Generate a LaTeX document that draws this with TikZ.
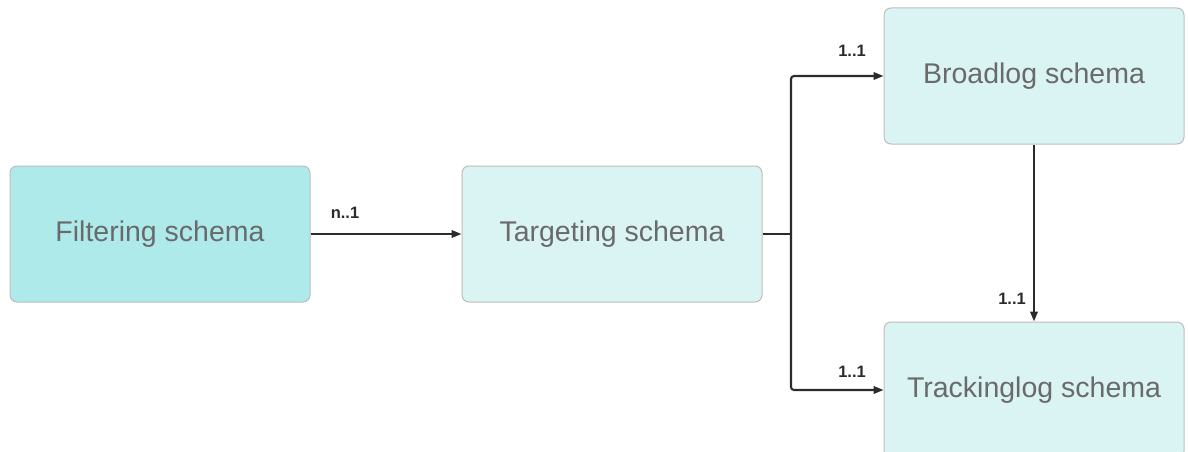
\documentclass[tikz,border=0pt]{standalone}
\usepackage{fontspec}
\setmainfont{Liberation Sans}
\usetikzlibrary{arrows.meta}
\definecolor{boxline}{HTML}{BDBDBD}
\definecolor{darkfill}{HTML}{AEEAEA}
\definecolor{lightfill}{HTML}{DAF4F4}
\definecolor{boxtext}{HTML}{6A6A6A}
\definecolor{wire}{HTML}{2B2B2B}
\tikzset{
  schema/.style={draw=boxline, line width=1pt, rounded corners=7pt,
    minimum width=300pt, minimum height=136pt, inner sep=0pt,
    text=boxtext, font=\fontsize{28.5}{33}\selectfont},
  link/.style={draw=wire, line width=2.1pt, rounded corners=3pt,
    -{Triangle[length=10pt,width=7.5pt]}},
  card/.style={text=wire, font=\bfseries\fontsize{16.5}{19}\selectfont, inner sep=0pt}
}
\begin{document}
\begin{tikzpicture}[x=1pt,y=-1pt]
  \clip (0,0) rectangle (1188,452);
  \fill[white] (0,0) rectangle (1188,452);

  \node[schema, fill=darkfill]  (filt)  at (160,234)  {Filtering schema};
  \node[schema, fill=lightfill] (targ)  at (612,234)  {Targeting schema};
  \node[schema, fill=lightfill] (broad) at (1034,76)  {Broadlog schema};
  \node[schema, fill=lightfill] (track) at (1034,390) {Trackinglog schema};

  \coordinate (split) at (791,234);

  \draw[link] (filt.east) -- (targ.west);
  \draw[draw=wire, line width=2.1pt] (targ.east) -- (split);
  \draw[link] (split) |- (broad.west);
  \draw[link] (split) |- (track.west);
  \draw[link] (broad.south) -- (track.north);

  \node[card] (l1) at (345,213) {n..1};
  \node[card] (l2) at (852,51)  {1..1};
  \node[card] (l3) at (852,372) {1..1};
  \node[card] (l4) at (1012,299) {1..1};
\end{tikzpicture}
\end{document}
